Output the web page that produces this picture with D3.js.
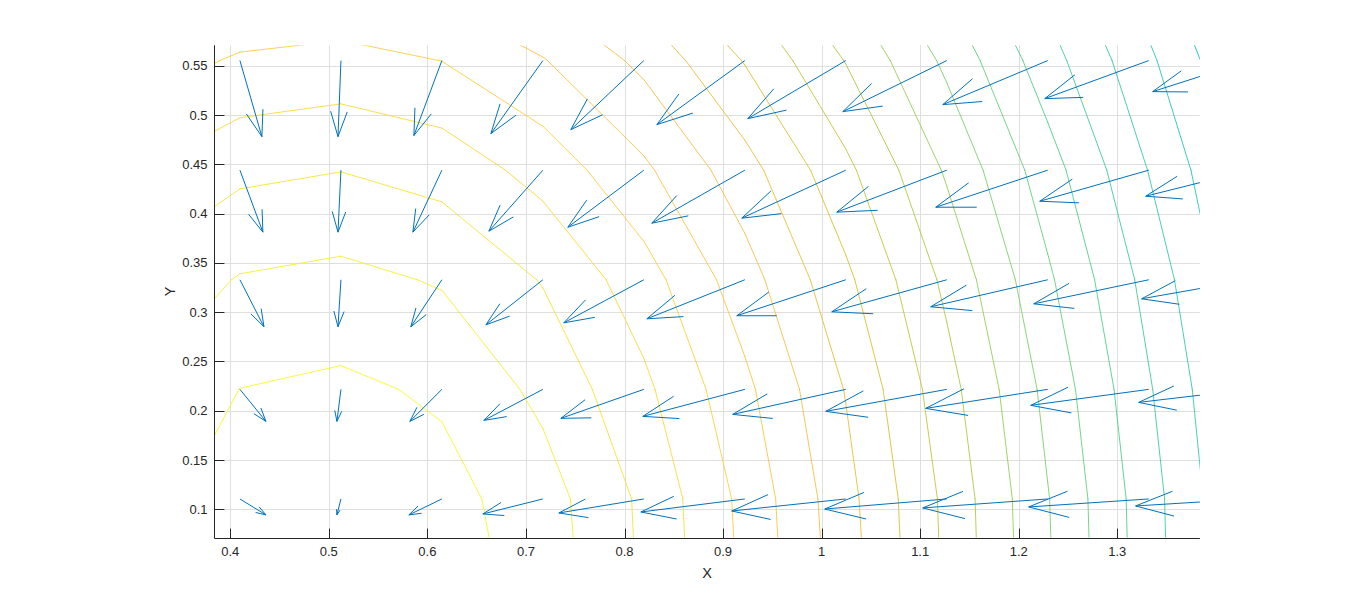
<!DOCTYPE html>
<html>
<head>
<meta charset="utf-8">
<title>Contour with gradient arrows</title>
<script src="https://cdn.jsdelivr.net/npm/d3@7/dist/d3.min.js"></script>
<style>
  html, body { margin: 0; padding: 0; background: #fff; }
  svg text { font-family: "Liberation Sans", Arial, Helvetica, sans-serif; fill: #262626; }
</style>
</head>
<body>
<div id="chart"></div>
<script>
// sample grid: x columns, y rows (bottom to top)
const gridX = [0.3074, 0.4098, 0.5123, 0.6147, 0.7172, 0.8196, 0.9221, 1.0245, 1.1270, 1.2294, 1.3319, 1.4343];
const gridY = [-0.0007, 0.1105, 0.2217, 0.3329, 0.4441, 0.5553, 0.6665];

// field value at each grid node, one row per gridY entry
const zGrid = [
  [18.85, 19.75, 19.95, 19.60, 18.60, 16.88, 14.85, 12.52, 9.85, 7.14, 4.48, 1.88],
  [18.59, 19.58, 19.72, 19.36, 18.45, 16.80, 14.73, 12.34, 9.76, 7.05, 4.41, 1.80],
  [18.05, 19.01, 19.20, 18.85, 17.75, 16.22, 14.24, 11.95, 9.38, 6.72, 4.10, 1.55],
  [17.24, 18.07, 18.28, 17.91, 16.94, 15.44, 13.44, 11.22, 8.76, 6.17, 3.65, 1.10],
  [15.98, 16.78, 16.98, 16.63, 15.63, 14.19, 12.40, 10.25, 7.87, 5.45, 2.97, 0.65],
  [14.40, 15.15, 15.36, 14.99, 14.06, 12.75, 10.94, 8.96, 6.78, 4.42, 2.19, -0.13],
  [12.40, 13.20, 13.40, 13.09, 12.19, 10.94, 9.38, 7.51, 5.46, 3.37, 1.18, -0.81]
];
const contourLevels = [1, 2, 3, 4, 5, 6, 7, 8, 9, 10, 11, 12, 13, 14, 15, 16, 17, 18, 19];

// quiver bases and drawn vectors (data units)
const quiverX = [0.4098, 0.5123, 0.6147, 0.7172, 0.8196, 0.9221, 1.0245, 1.1270, 1.2294, 1.3319, 1.4343];
const quiverY = [0.1105, 0.2217, 0.3329, 0.4441, 0.5553];
const quiverU = [
  [0.0264, -0.0041, -0.0335, -0.0609, -0.0862, -0.1055, -0.1157, -0.1238, -0.1268, -0.1218, -0.1157],
  [0.0264, -0.0041, -0.0325, -0.0599, -0.0842, -0.1035, -0.1147, -0.1228, -0.1238, -0.1197, -0.1126],
  [0.0244, -0.0030, -0.0315, -0.0578, -0.0812, -0.0994, -0.1106, -0.1167, -0.1187, -0.1167, -0.1096],
  [0.0233, -0.0030, -0.0294, -0.0548, -0.0771, -0.0944, -0.1055, -0.1116, -0.1136, -0.1106, -0.1055],
  [0.0223, -0.0030, -0.0284, -0.0528, -0.0741, -0.0893, -0.0994, -0.1055, -0.1065, -0.1055, -0.0984]
];
const quiverV = [
  [-0.0162, -0.0162, -0.0162, -0.0152, -0.0142, -0.0132, -0.0122, -0.0102, -0.0091, -0.0081, -0.0071],
  [-0.0325, -0.0325, -0.0325, -0.0315, -0.0294, -0.0274, -0.0254, -0.0223, -0.0193, -0.0162, -0.0132],
  [-0.0477, -0.0477, -0.0477, -0.0457, -0.0437, -0.0396, -0.0365, -0.0325, -0.0274, -0.0244, -0.0193],
  [-0.0629, -0.0629, -0.0629, -0.0619, -0.0579, -0.0538, -0.0487, -0.0426, -0.0376, -0.0315, -0.0264],
  [-0.0772, -0.0772, -0.0761, -0.0741, -0.0701, -0.0650, -0.0589, -0.0518, -0.0447, -0.0386, -0.0315]
];

const xTicks = [0.4, 0.5, 0.6, 0.7, 0.8, 0.9, 1.0, 1.1, 1.2, 1.3];
const yTicks = [0.1, 0.15, 0.2, 0.25, 0.3, 0.35, 0.4, 0.45, 0.5, 0.55];
const xLimits = [0.3838, 1.3838];
const yLimits = [0.0713, 0.5708];

// upper part of parula(64), entries 29..64
const parulaTail = [
  "#08b5d0", "#01b8ca", "#02bac3", "#0bbdbd", "#19bfb6", "#24c1ae", "#2cc4a7", "#31c69f",
  "#37c897", "#3fca8e", "#4acb84", "#57cc7a", "#64cd6f", "#72cd64", "#81cc59", "#8fcb4e",
  "#9dc943", "#abc739", "#b9c431", "#c5c22a", "#d1bf27", "#dcbd29", "#e6bb2d", "#f0ba36",
  "#f8ba3d", "#febe3c", "#fec338", "#fec934", "#fccf30", "#fad62d", "#f7dc2a", "#f5e327",
  "#f5e924", "#f6ef20", "#f7f51b", "#f9fb15"
];

const W = 1366, H = 604;
const plot = { left: 214.3, top: 45.3, width: 985.6, height: 492.3 };

const x = d3.scaleLinear().domain(xLimits).range([plot.left, plot.left + plot.width]);
const y = d3.scaleLinear().domain(yLimits).range([plot.top + plot.height, plot.top]);
const parula = d3.piecewise(d3.interpolateRgb, parulaTail);
const levelPos = d3.scaleLinear().domain([1, 19]).range([0.0714, 0.9857]);

const svg = d3.select("#chart").append("svg")
  .attr("width", W)
  .attr("height", H);

svg.append("defs").append("clipPath").attr("id", "plotClip")
  .append("rect")
  .attr("x", plot.left).attr("y", plot.top)
  .attr("width", plot.width).attr("height", plot.height);

// grid lines
const gridG = svg.append("g").attr("stroke", "#dfdfdf").attr("stroke-width", 1);
gridG.selectAll(".gx").data(xTicks).enter().append("line")
  .attr("x1", d => Math.round(x(d)) + 0.5).attr("x2", d => Math.round(x(d)) + 0.5)
  .attr("y1", plot.top).attr("y2", plot.top + plot.height);
gridG.selectAll(".gy").data(yTicks).enter().append("line")
  .attr("y1", d => Math.round(y(d)) + 0.5).attr("y2", d => Math.round(y(d)) + 0.5)
  .attr("x1", plot.left).attr("x2", plot.left + plot.width);

// marching squares: line pieces of one level, in data coordinates
function levelSegments(level) {
  const segs = [];
  for (let r = 0; r < gridY.length - 1; r++) {
    for (let c = 0; c < gridX.length - 1; c++) {
      const x0 = gridX[c], x1 = gridX[c + 1], y0 = gridY[r], y1 = gridY[r + 1];
      const z00 = zGrid[r][c], z10 = zGrid[r][c + 1], z11 = zGrid[r + 1][c + 1], z01 = zGrid[r + 1][c];
      const pts = [];
      const edge = (xa, ya, za, xb, yb, zb) => {
        if ((za >= level) !== (zb >= level)) {
          const t = (level - za) / (zb - za);
          pts.push([xa + t * (xb - xa), ya + t * (yb - ya)]);
        }
      };
      edge(x0, y0, z00, x1, y0, z10);
      edge(x1, y0, z10, x1, y1, z11);
      edge(x1, y1, z11, x0, y1, z01);
      edge(x0, y1, z01, x0, y0, z00);
      if (pts.length === 2) segs.push(pts);
      else if (pts.length === 4) {
        const mid = (z00 + z10 + z11 + z01) / 4;
        if ((mid >= level) === (z00 >= level)) segs.push([pts[0], pts[1]], [pts[2], pts[3]]);
        else segs.push([pts[0], pts[3]], [pts[1], pts[2]]);
      }
    }
  }
  return segs;
}

const dataG = svg.append("g").attr("clip-path", "url(#plotClip)");

const contourG = dataG.append("g").attr("fill", "none").attr("stroke-width", 0.85);
contourLevels.forEach(level => {
  const p = d3.path();
  levelSegments(level).forEach(([a, b]) => {
    p.moveTo(x(a[0]), y(a[1]));
    p.lineTo(x(b[0]), y(b[1]));
  });
  contourG.append("path")
    .attr("d", p.toString())
    .attr("stroke", parula(levelPos(level)))
    .attr("stroke-linecap", "round");
});

// quiver arrows (head shape as in MATLAB quiver)
const alpha = 0.33, beta = 0.33;
const arrows = d3.path();
quiverY.forEach((yv, r) => {
  quiverX.forEach((xv, c) => {
    const u = quiverU[r][c], v = quiverV[r][c];
    const tx = xv + u, ty = yv + v;
    arrows.moveTo(x(xv), y(yv));
    arrows.lineTo(x(tx), y(ty));
    arrows.moveTo(x(tx - alpha * (u + beta * v)), y(ty - alpha * (v - beta * u)));
    arrows.lineTo(x(tx), y(ty));
    arrows.lineTo(x(tx - alpha * (u - beta * v)), y(ty - alpha * (v + beta * u)));
  });
});
dataG.append("path")
  .attr("d", arrows.toString())
  .attr("fill", "none")
  .attr("stroke", "#0072bd")
  .attr("stroke-width", 1);

// axes (box off, ticks inward)
const axisG = svg.append("g").attr("stroke", "#262626").attr("stroke-width", 1);
const bottomY = Math.round(plot.top + plot.height) + 0.5;
const leftX = Math.round(plot.left) + 0.5;
axisG.append("line").attr("x1", leftX).attr("x2", plot.left + plot.width)
  .attr("y1", bottomY).attr("y2", bottomY);
axisG.append("line").attr("x1", leftX).attr("x2", leftX)
  .attr("y1", plot.top).attr("y2", bottomY);
axisG.selectAll(".tx").data(xTicks).enter().append("line")
  .attr("x1", d => Math.round(x(d)) + 0.5).attr("x2", d => Math.round(x(d)) + 0.5)
  .attr("y1", bottomY).attr("y2", bottomY - 9.9);
axisG.selectAll(".ty").data(yTicks).enter().append("line")
  .attr("y1", d => Math.round(y(d)) + 0.5).attr("y2", d => Math.round(y(d)) + 0.5)
  .attr("x1", leftX).attr("x2", leftX + 9.9);

const fmt = d => String(+d.toFixed(2));
svg.selectAll(".xl").data(xTicks).enter().append("text")
  .attr("x", d => x(d))
  .attr("y", 556)
  .attr("text-anchor", "middle")
  .attr("font-size", 13)
  .text(fmt);
svg.selectAll(".yl").data(yTicks).enter().append("text")
  .attr("x", 207.5)
  .attr("y", d => y(d) + 4.5)
  .attr("text-anchor", "end")
  .attr("font-size", 13)
  .text(fmt);

svg.append("text")
  .attr("x", plot.left + plot.width / 2)
  .attr("y", 578)
  .attr("text-anchor", "middle")
  .attr("font-size", 14.5)
  .text("X");
svg.append("text")
  .attr("transform", `translate(175,${plot.top + plot.height / 2}) rotate(-90)`)
  .attr("text-anchor", "middle")
  .attr("font-size", 14.5)
  .text("Y");
</script>
</body>
</html>
